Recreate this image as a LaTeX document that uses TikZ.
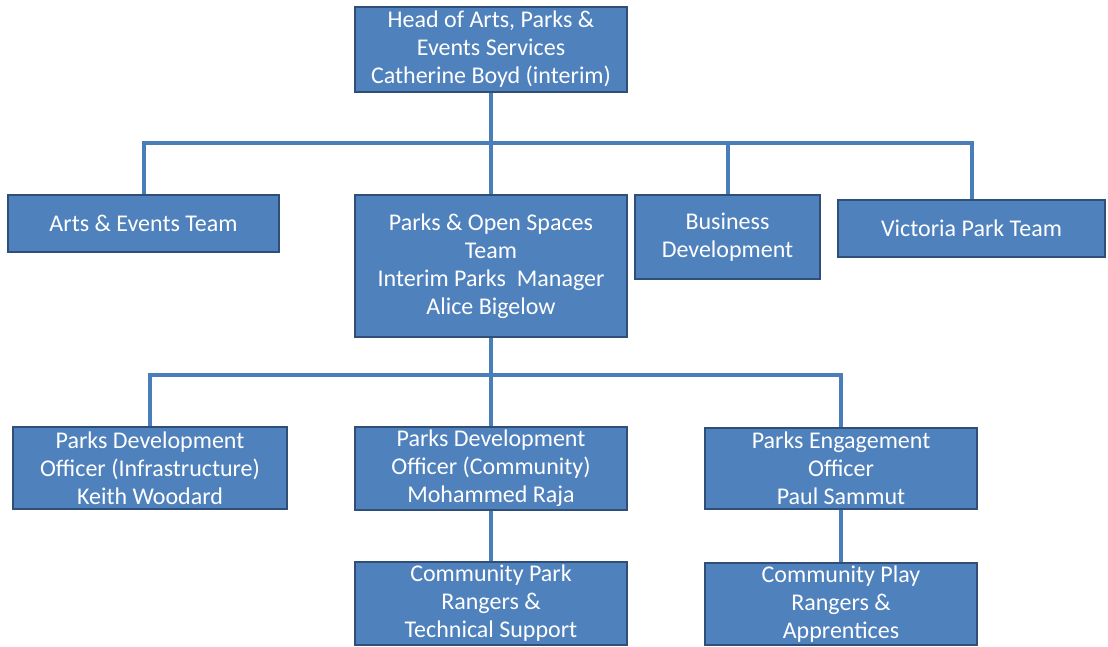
\documentclass[tikz,border=0pt]{standalone}
\usepackage{fontspec}
\setmainfont{Carlito}
\definecolor{boxblue}{HTML}{4F81BD}
\definecolor{boxedge}{HTML}{2F4F78}
\definecolor{linkblue}{HTML}{4A7EBB}
\begin{document}
\begin{tikzpicture}[x=1pt,y=-1pt,
		unit/.style={rectangle, draw=boxedge, line width=1.6pt, fill=boxblue, text=white, inner sep=0pt, align=center, font=\fontsize{24}{28}\selectfont},
		link/.style={draw=linkblue, line width=4pt}]
		\useasboundingbox (0,0) rectangle (1108,646);
		\node[unit, minimum width=272, minimum height=85] (head) at (491,49.5) {Head of Arts, Parks \&\\Events Services\\Catherine Boyd (interim)};
		\node[unit, minimum width=271, minimum height=57] (arts) at (143.5,223.5) {Arts \& Events Team};
		\node[unit, minimum width=272, minimum height=142] (parks) at (491,266) {Parks \& Open Spaces\\Team\\Interim Parks\ \ Manager\\Alice Bigelow};
		\node[unit, minimum width=185, minimum height=84] (biz) at (727.5,237) {Business\\Development};
		\node[unit, minimum width=267, minimum height=57] (vic) at (971.5,228.5) {Victoria Park Team};
		\node[unit, minimum width=274, minimum height=82] (infra) at (150,468) {Parks Development\\Officer (Infrastructure)\\Keith Woodard};
		\node[unit, minimum width=272, minimum height=83] (comm) at (491,468.5) {Parks Development\\Officer (Community)\\Mohammed Raja};
		\node[unit, minimum width=272, minimum height=81] (engage) at (841,468.5) {Parks Engagement\\Officer\\Paul Sammut};
		\node[unit, minimum width=272, minimum height=83] (rangers) at (491,603.5) {Community Park\\Rangers \&\\Technical Support};
		\node[unit, minimum width=272, minimum height=82] (play) at (841,604) {Community Play\\Rangers \&\\Apprentices};
		\coordinate (topbus) at (491,143);
		\coordinate (midbus) at (491,375);
		\draw[link] (head.south) -- (topbus);
		\draw[link] (arts.north) |- (topbus) -| (vic.north);
		\draw[link] (topbus) -- (parks.north);
		\draw[link] (topbus -| biz.north) -- (biz.north);
		\draw[link] (parks.south) -- (midbus);
		\draw[link] (infra.north) |- (midbus) -| (engage.north);
		\draw[link] (midbus) -- (comm.north);
		\draw[link] (comm.south) -- (rangers.north);
		\draw[link] (engage.south) -- (play.north);
		\end{tikzpicture}
\end{document}
